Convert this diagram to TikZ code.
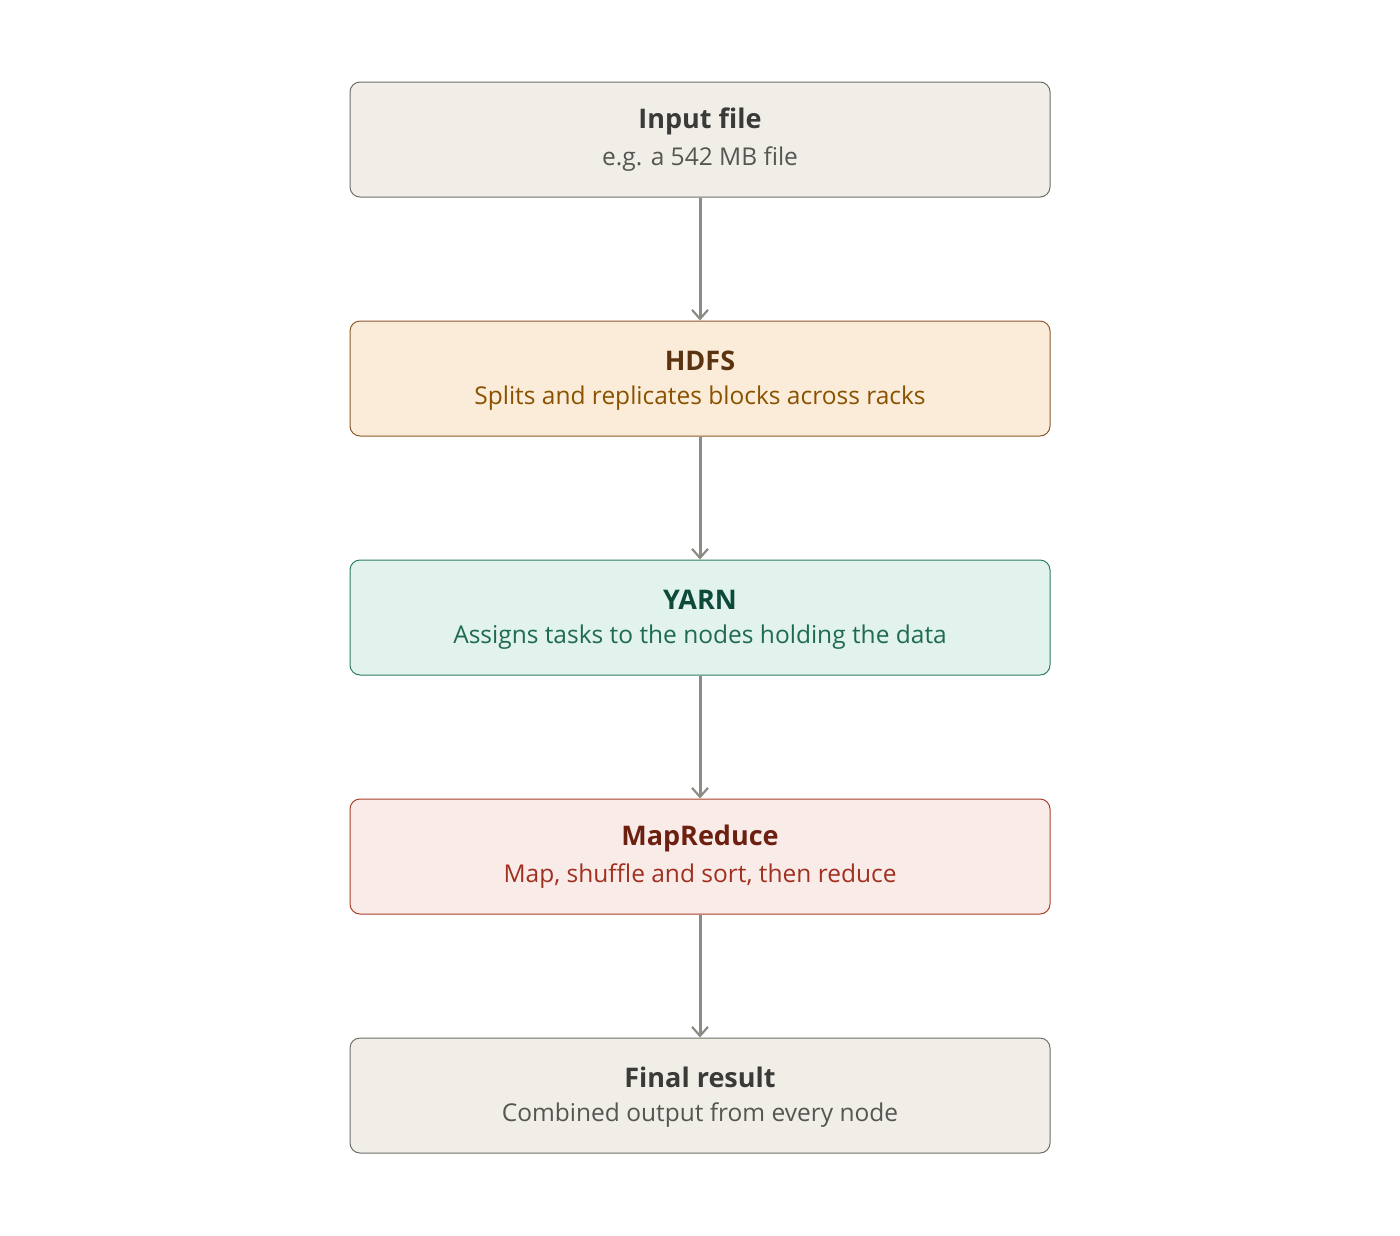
\documentclass[tikz,border=0pt]{standalone}
\usepackage{fontspec}
\setmainfont{Open Sans}
\usetikzlibrary{arrows.meta}
\definecolor{gfill}{HTML}{F1EEE7}\definecolor{gdraw}{HTML}{6E6E6A}\definecolor{gt}{HTML}{3A3A38}\definecolor{gs}{HTML}{555553}
\definecolor{hfill}{HTML}{FAECD9}\definecolor{hdraw}{HTML}{8B5A2B}\definecolor{ht}{HTML}{5C3310}\definecolor{hs}{HTML}{8A5200}
\definecolor{yfill}{HTML}{E1F3EC}\definecolor{ydraw}{HTML}{2E7D63}\definecolor{yt}{HTML}{0E4A3A}\definecolor{ys}{HTML}{1E6B50}
\definecolor{mfill}{HTML}{F9ECE8}\definecolor{mdraw}{HTML}{A8402A}\definecolor{mt}{HTML}{6E2010}\definecolor{ms}{HTML}{A03020}
\definecolor{arr}{HTML}{8C8C86}
\begin{document}
\begin{tikzpicture}[x=1pt,y=-1pt,
  box/.style={rounded corners=10pt,line width=1pt,minimum width=700pt,minimum height=115pt,inner sep=0pt},
  sub/.style={font=\fontsize{24.5}{28}\selectfont},
  conn/.style={draw=arr,line width=3pt,-{Straight Barb[length=9pt,width=16pt,line width=2.2pt]}}]
\useasboundingbox (0,0) rectangle (1400,1235);
\newcommand\bx[6]{%
\node[box,fill=#2,draw=#3] (#1) at (700,#4) {};
\node[font=\fontsize{27}{30}\selectfont\bfseries,text=#5] at (700,#4-18) {#6};}
\bx{a}{gfill}{gdraw}{139.5}{gt}{Input file}
\node[sub,text=gs] at (700,159) {e.g. a 542 MB file};
\bx{b}{hfill}{hdraw}{378.5}{ht}{HDFS}
\node[sub,text=hs] at (700,398) {Splits and replicates blocks across racks};
\bx{c}{yfill}{ydraw}{617.5}{yt}{YARN}
\node[sub,text=ys] at (700,637) {Assigns tasks to the nodes holding the data};
\bx{d}{mfill}{mdraw}{856.5}{mt}{MapReduce}
\node[sub,text=ms] at (700,876) {Map, shuffle and sort, then reduce};
\bx{e}{gfill}{gdraw}{1095.5}{gt}{Final result}
\node[sub,text=gs] at (700,1115) {Combined output from every node};
\draw[conn] (a) -- (b);
\draw[conn] (b) -- (c);
\draw[conn] (c) -- (d);
\draw[conn] (d) -- (e);
\end{tikzpicture}
\end{document}
